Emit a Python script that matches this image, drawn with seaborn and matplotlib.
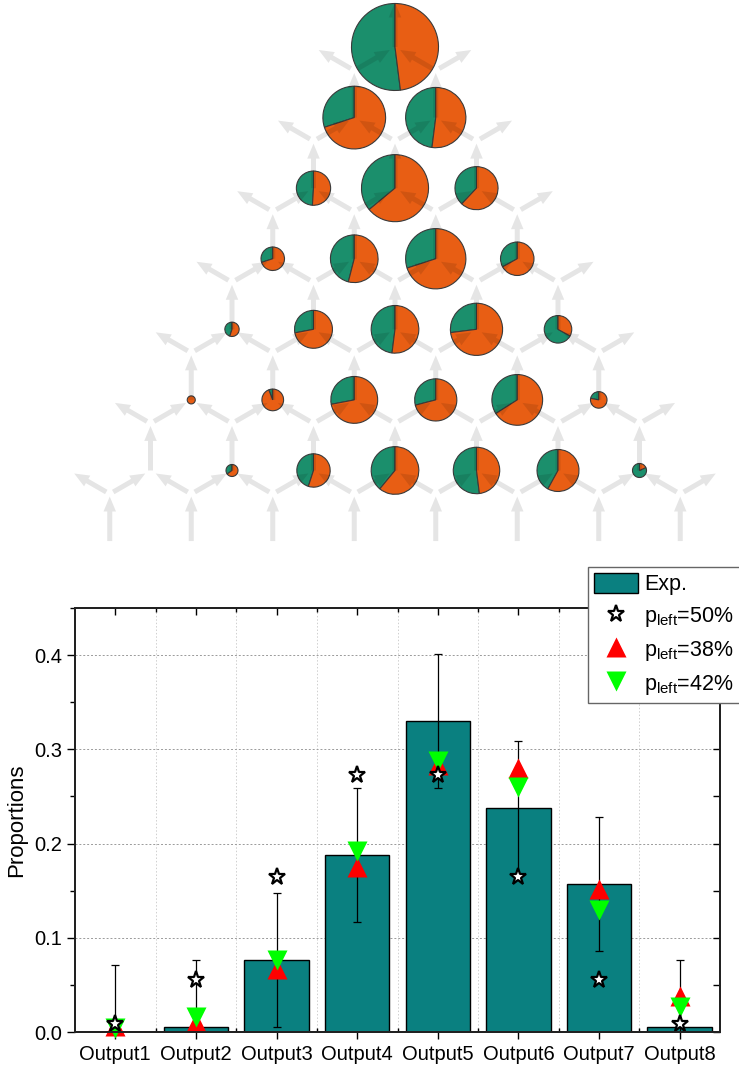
import numpy as np
import matplotlib
matplotlib.use("Agg")
import matplotlib.pyplot as plt
from matplotlib.patches import FancyArrow, Patch
from matplotlib.lines import Line2D
import seaborn as sns
import pandas as pd

# ---------------- data ----------------
outputs = ["Output1", "Output2", "Output3", "Output4",
           "Output5", "Output6", "Output7", "Output8"]
exp_vals = [0.000, 0.005, 0.076, 0.188, 0.330, 0.238, 0.157, 0.005]
exp_err = [0.071, 0.071, 0.071, 0.071, 0.071, 0.071, 0.071, 0.071]
p50_vals = [0.008, 0.055, 0.164, 0.273, 0.273, 0.164, 0.055, 0.008]
p38_vals = [0.006, 0.011, 0.067, 0.175, 0.283, 0.280, 0.152, 0.038]
p42_vals = [0.004, 0.016, 0.076, 0.192, 0.288, 0.260, 0.129, 0.027]
legend_labels = ["Exp.", r"p$_{\mathrm{left}}$=50%",
                 r"p$_{\mathrm{left}}$=38%", r"p$_{\mathrm{left}}$=42%"]

# Galton lattice: probability of reaching each node (pie area) and left fraction (green)
node_prob_r0 = [1.0]
node_prob_r1 = [0.52, 0.48]
node_prob_r2 = [0.155, 0.594, 0.245]
node_prob_r3 = [0.073, 0.30, 0.48, 0.148]
node_prob_r4 = [0.027, 0.19, 0.30, 0.36, 0.10]
node_prob_r5 = [0.0085, 0.062, 0.29, 0.235, 0.34, 0.036]
node_prob_r6 = [0.0, 0.019, 0.147, 0.30, 0.285, 0.233, 0.026]

left_frac_r0 = [0.52]
left_frac_r1 = [0.30, 0.48]
left_frac_r2 = [0.49, 0.36, 0.38]
left_frac_r3 = [0.30, 0.46, 0.30, 0.33]
left_frac_r4 = [0.45, 0.28, 0.48, 0.27, 0.67]
left_frac_r5 = [0.0, 0.06, 0.28, 0.29, 0.34, 0.22]
left_frac_r6 = [0.0, 0.35, 0.45, 0.39, 0.52, 0.42, 0.82]

node_prob = [node_prob_r0, node_prob_r1, node_prob_r2, node_prob_r3,
             node_prob_r4, node_prob_r5, node_prob_r6]
left_frac = [left_frac_r0, left_frac_r1, left_frac_r2, left_frac_r3,
             left_frac_r4, left_frac_r5, left_frac_r6]

# ---------------- style ----------------
plt.rcParams["font.family"] = ["Liberation Sans", "DejaVu Sans"]
plt.rcParams["mathtext.fontset"] = "custom"
plt.rcParams["mathtext.rm"] = "Liberation Sans"
plt.rcParams["mathtext.it"] = "Liberation Sans:italic"

GREEN = "#1b8f6c"
ORANGE = "#e85e14"
TEAL = "#0a8080"

W, H = 739, 1070
fig = plt.figure(figsize=(W / 100, H / 100), dpi=100)

# ---------------- top: Galton board with pies ----------------
H_TOP = 548
axt = fig.add_axes([0, 1 - H_TOP / H, 1, H_TOP / H])

d = 81.5                 # horizontal node spacing (px)
hh = d * np.sqrt(3) / 2  # row spacing
L = d / np.sqrt(3)       # hex edge length
cx, y0 = 395.0, 47.0
R_MAX = 43.5


def node(r, k):
    return cx + k * d / 2.0, H_TOP - (y0 + r * hh)


# pies
for r, (probs, fracs) in enumerate(zip(node_prob, left_frac)):
    for i, (p, g) in enumerate(zip(probs, fracs)):
        if p <= 0:
            continue
        k = 2 * i - r
        x, y = node(r, k)
        vals, cols = [], []
        if g > 0:
            vals.append(g); cols.append(GREEN)
        if g < 1:
            vals.append(1 - g); cols.append(ORANGE)
        axt.pie(vals, colors=cols, startangle=90, counterclock=True,
                center=(x, y), radius=R_MAX * np.sqrt(p), frame=False,
                wedgeprops=dict(edgecolor="#3a3a3a", linewidth=0.8))

# arrows (drawn on top, translucent)
arrow_kw = dict(width=5.0, head_width=12.5, head_length=15.0,
                length_includes_head=True, color="black", alpha=0.1,
                linewidth=0, zorder=5)


def draw_arrow(p0, p1, s0, s1):
    v = np.array(p1) - np.array(p0)
    ln = np.hypot(*v)
    u = v / ln
    a = np.array(p0) + u * s0
    b = np.array(p1) - u * s1
    axt.add_patch(FancyArrow(a[0], a[1], b[0] - a[0], b[1] - a[1], **arrow_kw))


for r in range(8):
    for k in range(-r, r + 1, 2):
        nx, ny = node(r, k)
        jx, jy = nx, ny + L
        draw_arrow((nx, ny), (jx, jy), 0.0, 2.5)
        if r > 0:
            for s in (-1, 1):
                tx, ty = node(r - 1, k + s)
                draw_arrow((jx, jy), (tx, ty), 4.0, 6.0)

axt.set_xlim(0, W)
axt.set_ylim(0, H_TOP)
axt.set_aspect("auto")
axt.axis("off")

# ---------------- bottom: bar chart ----------------
ax = fig.add_axes([75 / W, (H - 1032) / H, 645 / W, 424 / H])
df = pd.DataFrame({"output": outputs, "exp": exp_vals})
sns.barplot(data=df, x="output", y="exp", color=TEAL, saturation=1,
            edgecolor="black", linewidth=1.0, width=0.8, ax=ax, zorder=2)

xpos = np.arange(len(outputs))
ax.errorbar(xpos, exp_vals, yerr=exp_err, fmt="none", ecolor="black",
            elinewidth=0.9, capsize=3.0, capthick=0.9, zorder=3)

h38, = ax.plot(xpos, p38_vals, ls="none", marker="^", ms=14, color="red",
               mec="none", zorder=4, clip_on=False)
h42, = ax.plot(xpos, p42_vals, ls="none", marker="v", ms=14, color="#00ff00",
               mec="none", zorder=5, clip_on=False)
h50, = ax.plot(xpos, p50_vals, ls="none", marker="*", ms=12.5, mfc="white",
               mec="black", mew=1.6, zorder=6, clip_on=False)

ax.set_xlim(-0.5, 7.5)
ax.set_ylim(0, 0.45)
ax.set_xlabel("")
ax.set_ylabel("Proportions", fontsize=16, labelpad=5)
ax.set_yticks([0.0, 0.1, 0.2, 0.3, 0.4])
ax.set_yticklabels(["0.0", "0.1", "0.2", "0.3", "0.4"])
ax.set_yticks(np.arange(0.05, 0.46, 0.1), minor=True)
ax.set_xticks(xpos)
ax.set_xticklabels(outputs)
ax.set_xticks(np.arange(0.5, 7.0, 1.0), minor=True)
ax.tick_params(axis="y", which="major", direction="out", length=6, width=1,
               labelsize=14.5, pad=3)
ax.tick_params(axis="y", which="minor", direction="out", length=3.5, width=1)
ax.tick_params(axis="x", which="major", direction="out", length=5, width=1,
               labelsize=14.5, pad=4)
ax.tick_params(axis="x", which="minor", direction="in", length=3, width=1)
ax.set_axisbelow(True)
ax.yaxis.grid(True, which="major", ls=(0, (2, 2)), color="#9a9a9a", lw=0.7)
ax.xaxis.grid(True, which="minor", ls=(0, (1.5, 2)), color="#cfcfcf", lw=0.7)
for sp in ax.spines.values():
    sp.set_linewidth(1.3)
    sp.set_color("#222222")

# inward ticks on right and top
twr = ax.twinx()
twr.set_ylim(0, 0.45)
twr.set_yticks([0.0, 0.1, 0.2, 0.3, 0.4])
twr.set_yticks(np.arange(0.05, 0.46, 0.1), minor=True)
twr.tick_params(axis="y", which="both", direction="in", length=5, width=1,
                labelright=False)
twt = ax.twiny()
twt.set_xlim(-0.5, 7.5)
twt.set_xticks(xpos)
twt.set_xticks(np.arange(0.5, 7.0, 1.0), minor=True)
twt.tick_params(axis="x", which="major", direction="in", length=5, width=1,
                labeltop=False)
twt.tick_params(axis="x", which="minor", direction="in", length=3, width=1)
for t in (twr, twt):
    for sp in t.spines.values():
        sp.set_linewidth(1.3)
        sp.set_color("#222222")

bar_handle = Patch(facecolor=TEAL, edgecolor="black", linewidth=1.0)
fig.legend([bar_handle, h50, h38, h42], legend_labels,
           loc="upper left", bbox_to_anchor=(588 / W, 1 - 567 / H),
           bbox_transform=fig.transFigure, fontsize=15.5, frameon=True,
           fancybox=False, edgecolor="#666666", framealpha=1,
           handlelength=2.0, handleheight=1.0, handletextpad=0.3,
           labelspacing=0.45, borderpad=0.3, borderaxespad=0)

fig.savefig("out.png", dpi=100)
